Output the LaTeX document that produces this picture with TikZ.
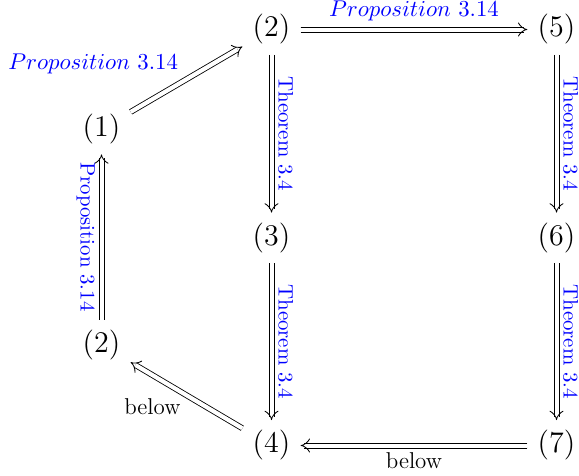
\documentclass[tikz,border=0pt]{standalone}
\usetikzlibrary{arrows.meta}
\begin{document}
\begin{tikzpicture}[x=0.48pt,y=0.48pt,
  obj/.style={inner sep=0pt, outer sep=5pt, font=\fontsize{14}{16}\selectfont},
  imp/.style={double, double distance=2pt, -{Implies}, line width=0.4pt},
  rail/.style={line width=0.45pt, shorten >=1.6pt},
  railv/.style={rail, transform canvas={xshift=#1}},
  railh/.style={rail, transform canvas={yshift=#1}},
  lab/.style={text=blue, inner sep=0pt},
  bigl/.style={font=\fontsize{10.7}{13}\selectfont},
  plain/.style={inner sep=0pt, font=\fontsize{11}{13}\selectfont}]
\useasboundingbox (0,0) rectangle (579,476);
% reference y is measured from the top: y_tikz = 476 - y_ref
\node[obj] (n1) at (101.5,347) {$(1)$};
\node[obj] (n2l) at (101.5,131) {$(2)$};
\node[obj] (n2) at (271.5,446.5) {$(2)$};
\node[obj] (n5) at (556.5,446.5) {$(5)$};
\node[obj] (n3) at (271.5,238) {$(3)$};
\node[obj] (n6) at (556.5,238) {$(6)$};
\node[obj] (n4) at (271.5,30.5) {$(4)$};
\node[obj] (n7) at (556.5,30.5) {$(7)$};

\draw[imp] (n1) -- (n2) node[lab, bigl, pos=0.4, anchor=south east, xshift=1.5pt, yshift=5.5pt] (l1) {$Proposition~3.14$};
\draw[imp] (n2) -- (n5) node[lab, bigl, midway, above, inner sep=4pt] (l2) {$Proposition~3.14$};
\draw[imp] (n2) -- (n3) node[lab, midway, anchor=south, rotate=-90, inner sep=3pt] (l3) {Theorem 3.4};
\draw[imp] (n5) -- (n6) node[lab, midway, anchor=south, rotate=-90, inner sep=3pt] (l4) {Theorem 3.4};
\draw[imp] (n3) -- (n4) node[lab, midway, anchor=south, rotate=-90, inner sep=3pt] (l5) {Theorem 3.4};
\draw[imp] (n6) -- (n7) node[lab, midway, anchor=south, rotate=-90, inner sep=3pt] (l6) {Theorem 3.4};
\draw[imp] (n2l) -- (n1) node[lab, midway, anchor=north, rotate=-90, inner sep=3pt] (l7) {Proposition 3.14};
\draw[imp] (n7) -- (n4) node[plain, midway, below, inner sep=3pt] (l8) {below};
\draw[imp] (n4) -- (n2l) node[plain, pos=0.55, anchor=north east, xshift=3pt, inner sep=3pt] (l9) {below};

% rails of the axis-aligned double shafts
\foreach \a/\b in {n2/n3, n5/n6, n3/n4, n6/n7, n2l/n1} {
  \draw[railv=1.2pt] (\a) -- (\b);
  \draw[railv=-1.2pt] (\a) -- (\b);
}
\foreach \a/\b in {n2/n5, n7/n4} {
  \draw[railh=1.2pt] (\a) -- (\b);
  \draw[railh=-1.2pt] (\a) -- (\b);
}
\end{tikzpicture}
\end{document}
